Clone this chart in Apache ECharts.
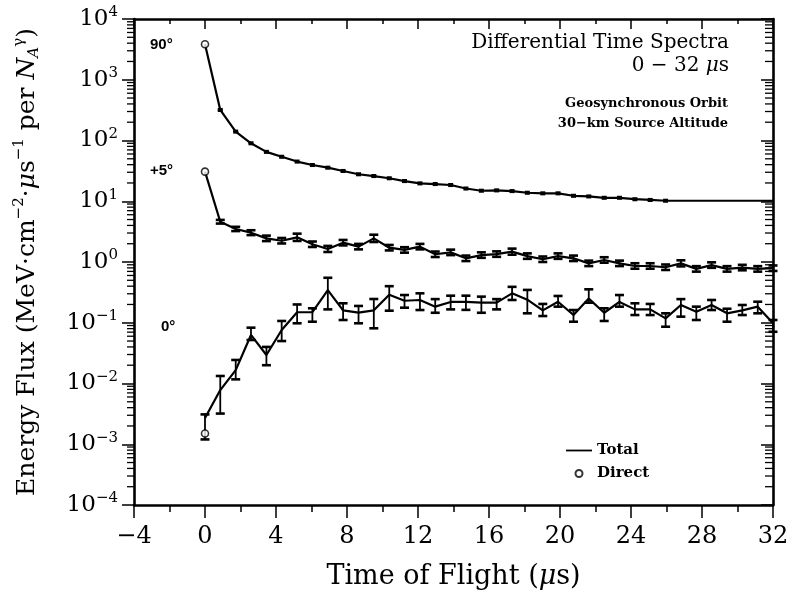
<!DOCTYPE html>
<html><head><meta charset="utf-8">
<script src="https://cdn.jsdelivr.net/npm/echarts@6/dist/echarts.min.js"></script>
<style>html,body{margin:0;padding:0;background:#fff}#c{width:794px;height:597px}</style>
</head><body><div id="c"></div>
<script>
// time of flight (µs) of each bin point
const times = [0,0.86,1.73,2.59,3.46,4.32,5.19,6.05,6.92,7.78,8.65,9.51,10.38,11.24,12.11,12.97,13.84,14.7,15.57,16.43,17.3,18.16,19.03,19.89,20.76,21.62,22.49,23.35,24.22,25.08,25.95,26.81,27.68,28.54,29.41,30.27,31.14,32];
// 90 degree total
const total90 = [3830,318,140,90,65,54,45,39.5,35.7,31.5,27.8,26,23.9,21.5,19.7,19.2,18.5,16.2,14.9,15.1,14.7,13.8,13.5,13.5,12.3,12.0,11.4,11.4,10.8,10.5,10.2,10.2,10.2,10.2,10.2,10.2,10.2,10.2];
// +5 degree total
const total5 = [30.7,4.6,3.5,3.04,2.45,2.24,2.55,1.96,1.64,2.08,1.79,2.45,1.72,1.58,1.79,1.34,1.44,1.15,1.30,1.35,1.48,1.25,1.11,1.25,1.15,0.95,1.08,0.95,0.86,0.86,0.82,0.95,0.77,0.89,0.77,0.81,0.77,0.79];
// +5 degree error half-width (decades)
const err5 = [0,0.03,0.035,0.04,0.045,0.045,0.06,0.045,0.05,0.045,0.045,0.06,0.045,0.045,0.045,0.045,0.045,0.045,0.045,0.045,0.05,0.045,0.045,0.045,0.045,0.045,0.045,0.045,0.045,0.045,0.045,0.05,0.045,0.045,0.045,0.045,0.045,0.045];
// 0 degree total with error range
const total0 = [0.0027,0.0078,0.0166,0.063,0.0295,0.076,0.149,0.149,0.345,0.16,0.147,0.16,0.29,0.23,0.237,0.184,0.22,0.22,0.214,0.214,0.305,0.24,0.16,0.222,0.134,0.25,0.146,0.22,0.166,0.166,0.118,0.196,0.152,0.196,0.143,0.16,0.184,0.098];
const hi0 = [0.0031,0.0133,0.0244,0.083,0.040,0.107,0.20,0.173,0.55,0.209,0.189,0.246,0.40,0.286,0.305,0.245,0.279,0.279,0.269,0.245,0.39,0.347,0.204,0.276,0.162,0.355,0.173,0.286,0.209,0.204,0.143,0.245,0.184,0.237,0.17,0.196,0.222,0.111];
const lo0 = [0.0012,0.0032,0.0117,0.052,0.020,0.050,0.098,0.104,0.166,0.111,0.098,0.081,0.158,0.177,0.162,0.146,0.166,0.163,0.146,0.166,0.237,0.143,0.129,0.184,0.104,0.214,0.107,0.184,0.134,0.134,0.086,0.126,0.111,0.162,0.104,0.134,0.143,0.071];
// direct components at t = 0
const directT = [0,0,0];
const directV = [3830,30.7,0.0015];
// y tick exponents
const yExpMin = -4, yExpMax = 4;

const SERIF = '"DejaVu Serif", "Liberation Serif", serif';
const SANS = '"Liberation Sans", Arial, sans-serif';

function zip(xs, ys){ return xs.map((x,i)=>[x, ys[i]]); }
const err5Data = times.map((t,i)=> i===0 ? null : [t, total5[i]/Math.pow(10,err5[i]), total5[i]*Math.pow(10,err5[i])]).filter(Boolean);
const err90Data = times.slice(1,31).map((t,i)=>[t, total90[i+1]/Math.pow(10,0.012), total90[i+1]*Math.pow(10,0.012)]);
const err0Data = times.map((t,i)=>[t, lo0[i], hi0[i]]);

function errRender(capW){
  return function(params, api){
    const x = api.value(0);
    const p1 = api.coord([x, api.value(2)]);
    const p2 = api.coord([x, api.value(1)]);
    const st = {stroke:'#000', lineWidth:1.8};
    const cs = {stroke:'#000', lineWidth:2.6};
    return {type:'group', children:[
      {type:'line', shape:{x1:p1[0],y1:p1[1],x2:p2[0],y2:p2[1]}, style:st},
      {type:'line', shape:{x1:p1[0]-capW,y1:p1[1],x2:p1[0]+capW,y2:p1[1]}, style:cs},
      {type:'line', shape:{x1:p2[0]-capW,y1:p2[1],x2:p2[0]+capW,y2:p2[1]}, style:cs}
    ]};
  };
}

// log minor tick positions (axis decoration)
const minorVals = [];
for (let e = yExpMin; e < yExpMax; e++) for (let m = 2; m <= 9; m++) minorVals.push(m*Math.pow(10,e));
function tickRender(params, api){
  const v = api.value(0);
  const L = api.coord([-4, v]);
  const R = api.coord([32, v]);
  return {type:'group', children:[
    {type:'line', shape:{x1:L[0]-7,y1:L[1],x2:L[0],y2:L[1]}, style:{stroke:'#000',lineWidth:1.3}},
    {type:'line', shape:{x1:R[0]-8,y1:R[1],x2:R[0],y2:R[1]}, style:{stroke:'#000',lineWidth:1.3}}
  ]};
}

const chart = echarts.init(document.getElementById('c'), null, {renderer:'canvas'});
const lineStyle = {color:'#000', width:2.2};
const axisLine = {show:true, onZero:false, lineStyle:{color:'#000', width:2.6}};

chart.setOption({
  animation:false,
  backgroundColor:'#fff',
  grid:{left:134, right:21, top:19, bottom:92, containLabel:false},
  xAxis:[{
    type:'value', min:-4, max:32, interval:4, position:'bottom',
    axisLine:axisLine,
    axisTick:{show:true, inside:false, length:13, lineStyle:{color:'#000', width:1.5}},
    minorTick:{show:true, splitNumber:2, length:7, lineStyle:{color:'#000', width:1.5}},
    splitLine:{show:false},
    axisLabel:{color:'#000', fontFamily:SERIF, fontSize:24, margin:20,
      formatter:v=>String(v).replace('-','\u2212')},
    name:'{a|Time of Flight (}{i|\u03bc}{a|s)}', nameLocation:'middle', nameGap:58,
    nameTextStyle:{rich:{a:{fontFamily:SERIF, fontSize:27, color:'#000'}, i:{fontFamily:SERIF, fontStyle:'italic', fontSize:27, color:'#000'}}}
  },{
    type:'value', min:-4, max:32, interval:4, position:'top',
    axisLine:axisLine,
    axisTick:{show:true, inside:true, length:10, lineStyle:{color:'#000', width:1.5}},
    minorTick:{show:true, splitNumber:2, length:5, lineStyle:{color:'#000', width:1.5}},
    splitLine:{show:false}, axisLabel:{show:false}
  }],
  yAxis:[{
    type:'log', logBase:10, min:1e-4, max:1e4, position:'left',
    axisLine:axisLine,
    axisTick:{show:true, inside:false, length:12, lineStyle:{color:'#000', width:1.5}},
    splitLine:{show:false},
    axisLabel:{color:'#000', margin:16,
      formatter:v=>{const e=Math.round(Math.log10(v)); return '{b|10}{s|'+(e<0?'\u2212'+(-e):e)+'}';},
      rich:{b:{fontFamily:SERIF, fontSize:23, color:'#000', lineHeight:28}, s:{fontFamily:SERIF, fontSize:15, color:'#000', verticalAlign:'top', lineHeight:16}}},
    name:'{a|Energy Flux (MeV\u00b7cm}{s|\u22122}{a|\u00b7}{i|\u03bc}{a|s}{s|\u22121}{a| per }{i|N}{u|A}{s|\u03b3}{a|)}',
    nameLocation:'middle', nameGap:92, nameRotate:90,
    nameTextStyle:{rich:{
      a:{fontFamily:SERIF, fontSize:25, color:'#000', lineHeight:30},
      i:{fontFamily:SERIF, fontStyle:'italic', fontSize:25, color:'#000', lineHeight:30},
      s:{fontFamily:SERIF, fontSize:15, color:'#000', verticalAlign:'top', lineHeight:16},
      u:{fontFamily:SERIF, fontStyle:'italic', fontSize:15, color:'#000', verticalAlign:'bottom', lineHeight:16}
    }}
  },{
    type:'log', logBase:10, min:1e-4, max:1e4, position:'right',
    axisLine:axisLine,
    axisTick:{show:true, inside:true, length:12, lineStyle:{color:'#000', width:1.5}},
    splitLine:{show:false}, axisLabel:{show:false}
  }],
  legend:{
    orient:'vertical', left:561, top:438, itemWidth:26, itemHeight:7, itemGap:8,
    textStyle:{fontFamily:SERIF, fontSize:15, fontWeight:'bold', color:'#000'},
    data:[{name:'Total', icon:'path://M0,0 L26,0 L26,1.8 L0,1.8 Z'}, {name:'Direct'}]
  },
  graphic:[
    {type:'text', right:65, top:33, style:{text:'Differential Time Spectra', fontFamily:SERIF, fontSize:20, fill:'#000', textAlign:'right'}},
    {type:'text', right:65, top:56, style:{rich:{a:{fontFamily:SERIF, fontSize:20, fill:'#000'}, i:{fontFamily:SERIF, fontStyle:'italic', fontSize:20, fill:'#000'}}, text:'{a|0 \u2212 32 }{i|\u03bc}{a|s}'}},
    {type:'text', right:66, top:97, style:{text:'Geosynchronous Orbit', fontFamily:SERIF, fontSize:13, fontWeight:'bold', fill:'#000'}},
    {type:'text', right:66, top:117, style:{text:'30\u2212km Source Altitude', fontFamily:SERIF, fontSize:13, fontWeight:'bold', fill:'#000'}},
    {type:'text', left:150, top:37, style:{text:'90\u00b0', fontFamily:SANS, fontSize:15, fontWeight:'bold', fill:'#000'}},
    {type:'text', left:150, top:163, style:{text:'+5\u00b0', fontFamily:SANS, fontSize:15, fontWeight:'bold', fill:'#000'}},
    {type:'text', left:161, top:319, style:{text:'0\u00b0', fontFamily:SANS, fontSize:15, fontWeight:'bold', fill:'#000'}}
  ],
  series:[
    {name:'Total', type:'line', data:zip(times,total90), symbol:'none', showSymbol:false, lineStyle:lineStyle, color:'#000', z:3},
    {name:'Total', type:'line', data:zip(times,total5), symbol:'none', showSymbol:false, lineStyle:lineStyle, color:'#000', z:3},
    {name:'Total', type:'line', data:zip(times,total0), symbol:'none', showSymbol:false, lineStyle:lineStyle, color:'#000', z:3},
    {name:'err90', type:'custom', data:err90Data, renderItem:errRender(2.5), encode:{x:0,y:[1,2]}, z:4},
    {name:'err5', type:'custom', data:err5Data, renderItem:errRender(4.5), encode:{x:0,y:[1,2]}, z:4},
    {name:'err0', type:'custom', data:err0Data, renderItem:errRender(4.5), encode:{x:0,y:[1,2]}, z:4},
    {name:'Direct', type:'scatter', data:zip(directT,directV), symbol:'circle', symbolSize:7,
      itemStyle:{color:'#fff', borderColor:'#000', borderWidth:1.6}, z:6},
    {name:'ticks', type:'custom', data:minorVals.map(v=>[v]), renderItem:tickRender, encode:{y:0}, clip:false, silent:true, z:5}
  ]
});
</script></body></html>
